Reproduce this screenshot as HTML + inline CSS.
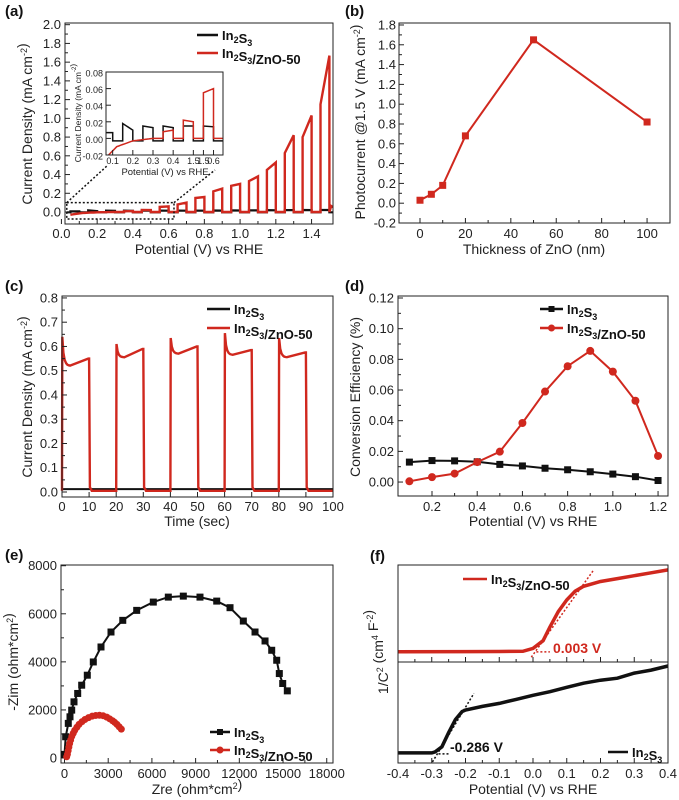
<!DOCTYPE html>
<html><head><meta charset="utf-8">
<style>
html,body{margin:0;padding:0;background:#fff;}
svg{display:block;font-family:"Liberation Sans",Arial,sans-serif;}
</style></head>
<body>
<svg id="fig" width="679" height="800" viewBox="0 0 679 800" xmlns="http://www.w3.org/2000/svg"></svg>
<script>
// ---------- Panel (a) data ----------
const aRedPulseStart=[0.35,0.45,0.55,0.65,0.75,0.85,0.95,1.05,1.15,1.25,1.35,1.45];
const aRedPulseOn=[0.008,0.022,0.055,0.08,0.15,0.22,0.28,0.33,0.45,0.63,0.80,1.15];
const aRedPulseEnd=[0.010,0.020,0.060,0.10,0.16,0.25,0.30,0.38,0.53,0.82,1.03,1.67];
const aRedDarkX=[0.05,0.08,0.12,0.2,0.3,0.5,1.5,1.505,1.53];
const aRedDarkY=[-0.03,-0.02,-0.01,-0.003,0,0,0,0.07,0.04];
const aBlkPulseStart=[0.05,0.15,0.25,0.35,0.45,0.55,0.65,0.75,0.85,0.95,1.05,1.15,1.25,1.35,1.45];
const aBlkPulseOn=[0.007,0.018,0.015,0.015,0.015,0.015,0.015,0.015,0.016,0.017,0.018,0.02,0.02,0.022,0.022];
const aBlkPulseEnd=[0.007,0.010,0.013,0.013,0.015,0.014,0.014,0.014,0.015,0.016,0.017,0.018,0.02,0.02,0.022];
const aBlkDark=-0.003;
const aYTicks=[0,0.2,0.4,0.6,0.8,1.0,1.2,1.4,1.6,1.8,2.0];
const aXTicks=[0,0.2,0.4,0.6,0.8,1.0,1.2,1.4];
const insetXTicks=[0.1,0.2,0.3,0.4,0.5,0.55,0.6];
const insetXLabels=["0.1","0.2","0.3","0.4","1.5","1.5","0.6"];
const insetYTicks=[-0.02,0,0.02,0.04,0.06,0.08];
// ---------- Panel (b) data ----------
const bThickness=[0,5,10,20,50,100];
const bPhotocurrent=[0.03,0.09,0.18,0.68,1.65,0.82];
const bXTicks=[0,20,40,60,80,100];
const bYTicks=[-0.2,0,0.2,0.4,0.6,0.8,1.0,1.2,1.4,1.6,1.8];
// ---------- Panel (c) data ----------
const cOnStart=[0,20,40,60,80];
const cSpike=[0.64,0.61,0.635,0.655,0.635];
const cDip=[0.52,0.555,0.57,0.565,0.555];
const cEnd=[0.55,0.59,0.60,0.585,0.575];
const cDark=0.005;
const cBlack=0.012;
const cXTicks=[0,10,20,30,40,50,60,70,80,90,100];
const cYTicks=[0,0.1,0.2,0.3,0.4,0.5,0.6,0.7,0.8];
// ---------- Panel (d) data ----------
const dPotential=[0.1,0.2,0.3,0.4,0.5,0.6,0.7,0.8,0.9,1.0,1.1,1.2];
const dIn2S3=[0.013,0.014,0.0138,0.0132,0.0115,0.0105,0.009,0.008,0.0067,0.0052,0.0035,0.001];
const dZnO=[0.0005,0.0032,0.0055,0.013,0.0198,0.0385,0.059,0.0755,0.0855,0.072,0.053,0.017];
const dXTicks=[0.2,0.4,0.6,0.8,1.0,1.2];
const dYTicks=[0,0.02,0.04,0.06,0.08,0.10,0.12];
const dYLabels=["0.00","0.02","0.04","0.06","0.08","0.10","0.12"];
// ---------- Panel (e) data ----------
const eBlkZre=[0,80,260,378,494,652,906,1180,1565,1977,2506,3192,4000,4956,6096,7126,8156,9300,10449,11362,12275,13078,13765,14223,14566,14745,14978,15294];
const eBlkZim=[150,884,1440,1714,1992,2336,2685,3029,3445,3996,4619,5242,5727,6142,6487,6694,6735,6694,6528,6254,5698,5242,4869,4482,4067,3514,3100,2793];
const eRedZre=[150,200,250,300,350,420,500,600,700,850,1000,1200,1400,1650,1900,2150,2400,2650,2900,3100,3300,3450,3600,3750,3900];
const eRedZim=[50,150,300,450,600,750,900,1030,1150,1280,1400,1510,1600,1680,1740,1770,1780,1760,1700,1630,1550,1480,1400,1300,1200];
const eXTicks=[0,3000,6000,9000,12000,15000,18000];
const eYTicks=[0,2000,4000,6000,8000];
// ---------- Panel (f) data (arbitrary units 0-100 in each sub-panel) ----------
const fRedV=[-0.4,-0.2,-0.1,-0.03,0.0,0.03,0.05,0.075,0.1,0.125,0.15,0.2,0.25,0.3,0.35,0.4];
const fRedY=[10.6,10.7,10.8,11,14,22,36,52,64,73,78,83,86,89,92,95];
const fBlkV=[-0.4,-0.3,-0.29,-0.27,-0.25,-0.23,-0.21,-0.2,-0.15,-0.1,-0.05,0,0.05,0.1,0.15,0.2,0.25,0.3,0.35,0.4];
const fBlkY=[10,10,11,16,30,43,51,52.5,56,59,63,67,70.6,75,79,82,84,89,92,96];
const fXTicks=[-0.4,-0.3,-0.2,-0.1,0,0.1,0.2,0.3,0.4];
const fRedOnset=0.003;
const fBlkOnset=-0.286;

const NS="http://www.w3.org/2000/svg";
const svg=document.getElementById('fig');
function el(tag,attrs,parent){const e=document.createElementNS(NS,tag);for(const k in attrs)e.setAttribute(k,attrs[k]);(parent||svg).appendChild(e);return e;}
function lin(d0,d1,r0,r1){return v=>r0+(v-d0)*(r1-r0)/(d1-d0);}
function txt(s,x,y,opt,parent){const t=el('text',{x:x,y:y,'font-size':opt.size||13,'text-anchor':opt.anchor||'middle',fill:opt.fill||'#222','font-weight':opt.weight||'normal'},parent);if(opt.rot)t.setAttribute('transform','rotate(-90 '+x+' '+y+')');t.innerHTML=s;return t;}
function pathFrom(xs,ys,X,Y){return xs.map((v,i)=>(i?'L':'M')+X(v).toFixed(1)+','+Y(ys[i]).toFixed(1)).join('');}
function sub(s){return '<tspan dy="3" font-size="9">'+s+'</tspan><tspan dy="-3"></tspan>';}
function sup(s,fs){return '<tspan dy="-5" font-size="'+(fs||9)+'">'+s+'</tspan><tspan dy="5"></tspan>';}

function frame(name,box){const r=el('rect',{x:box[0],y:box[1],width:box[2]-box[0],height:box[3]-box[1],fill:'none',stroke:'#222','stroke-width':1});

}
function xAxis(name,box,X,ticks,labels,ly,size,minor){
 const g=el('g',{});
 
 
 ticks.forEach((v,i)=>{const x=X(v);el('line',{x1:x,x2:x,y1:box[3],y2:box[3]-5,stroke:'#222'},g);
  if(minor&&i<ticks.length-1){const xm=X((v+ticks[i+1])/2);el('line',{x1:xm,x2:xm,y1:box[3],y2:box[3]-3,stroke:'#222'},g);}
  const t=txt(labels?labels[i]:String(v),x,ly,{size:size||13},g);
  
  });
}
function yAxis(name,box,Y,ticks,labels,lx,size,minor){
 const g=el('g',{});
 
 
 ticks.forEach((v,i)=>{const y=Y(v);el('line',{x1:box[0],x2:box[0]+5,y1:y,y2:y,stroke:'#222'},g);
  if(minor&&i<ticks.length-1){const ym=Y((v+ticks[i+1])/2);el('line',{x1:box[0],x2:box[0]+3,y1:ym,y2:ym,stroke:'#222'},g);}
  const t=txt(labels?labels[i]:String(v),lx,y+4.5,{size:size||13,anchor:'end'},g);
  
  });
}
function label(s,x,y){const t=txt(s,x,y,{size:15,anchor:'start',weight:'bold',fill:'#111'});
 
 }
function legend(name,x1,x2,y,color,text,marker){
 const g=el('g',{});
 
 
 el('line',{x1:x1,x2:x2,y1:y,y2:y,stroke:color,'stroke-width':2.5},g);
 const m=(x1+x2)/2;
 if(marker==='s')el('rect',{x:m-3,y:y-3,width:6,height:6,fill:color},g);
 if(marker==='c')el('circle',{cx:m,cy:y,r:3.5,fill:color},g);
 txt(text,x2+4,y+5,{size:13,anchor:'start',weight:'bold',fill:'#111'},g);
}
const IN='In'+sub('2')+'S'+sub('3');
const INZ=IN+'/ZnO-50';
const RED='#d0281e';

function chopped(starts,on,end,darkFn,x0,x1,w){
 const xs=[],ys=[];let cur=x0;
 starts.forEach((s,i)=>{ if(s<x0)return;
  for(let x=cur;x<s;x+=0.01){xs.push(x);ys.push(darkFn(x));}
  xs.push(s);ys.push(darkFn(s));xs.push(s);ys.push(on[i]);
  xs.push(s+w);ys.push(end[i]);xs.push(s+w);ys.push(darkFn(s+w));cur=s+w;});
 for(let x=cur;x<=x1;x+=0.01){xs.push(x);ys.push(darkFn(x));}
 return [xs,ys];
}
function interp(xs,ys,x){if(x<=xs[0])return ys[0];for(let i=1;i<xs.length;i++)if(x<=xs[i])return ys[i-1]+(ys[i]-ys[i-1])*(x-xs[i-1])/(xs[i]-xs[i-1]);return ys[ys.length-1];}

// ================= Panel (a) =================
(function(){
 const box=[65,23,333,224];
 const X=lin(0.02,1.52,box[0],box[2]), Y=lin(-0.128,2.018,box[3],box[1]);
 label('(a)',5,16);
 const clip=el('clipPath',{id:'ca'});el('rect',{x:box[0],y:box[1],width:box[2]-box[0],height:box[3]-box[1]},clip);
 const blk=chopped(aBlkPulseStart,aBlkPulseOn,aBlkPulseEnd,()=>aBlkDark,0.03,1.53,0.05);
 const red=chopped(aRedPulseStart,aRedPulseOn,aRedPulseEnd,x=>interp(aRedDarkX,aRedDarkY,x),0.05,1.53,0.05);
 let p=el('path',{d:pathFrom(blk[0],blk[1],X,Y),fill:'none',stroke:'#111','stroke-width':2.2,'clip-path':'url(#ca)'});
 
 
 p=el('path',{d:pathFrom(red[0],red[1],X,Y),fill:'none',stroke:RED,'stroke-width':2.4,'clip-path':'url(#ca)'});
 
 
 frame('panel-a',box);
 yAxis('panel-a',box,Y,aYTicks,aYTicks.map(v=>v.toFixed(1)),61,13,true);
 xAxis('panel-a',box,X,aXTicks,aXTicks.map(v=>v.toFixed(1)),238,13,true);
 let t=txt('Potential (V) vs RHE',199,254,{size:14});
 
 
 t=txt('Current Density (mA cm'+sup('-2')+')',32,124,{size:14,rot:true});
 
 
 legend('panel-a-legend-in2s3',197,218,35,'#111',IN);
 legend('panel-a-legend-in2s3-zno',197,218,53,RED,INZ);
 const zb=el('rect',{x:X(0.03),y:Y(0.1),width:X(0.63)-X(0.03),height:Y(-0.075)-Y(0.1),fill:'none',stroke:'#111','stroke-width':1.5,'stroke-dasharray':'2,2'});
 
 
 const l1=el('line',{x1:X(0.03),y1:Y(0.1),x2:108,y2:165,stroke:'#111','stroke-width':1.5,'stroke-dasharray':'2,2'});
 
 
 const l2=el('line',{x1:X(0.63),y1:Y(0.1),x2:215,y2:170,stroke:'#111','stroke-width':1.5,'stroke-dasharray':'2,2'});
 
 
 const ib=[106,72,223,155];
 const bg=el('rect',{x:ib[0],y:ib[1],width:ib[2]-ib[0],height:ib[3]-ib[1],fill:'#fff'});
 
 
 const IX=lin(0.067,0.647,ib[0],ib[2]), IY=lin(-0.02,0.08,ib[3],ib[1]);
 const clip2=el('clipPath',{id:'ci'});el('rect',{x:ib[0],y:ib[1],width:ib[2]-ib[0],height:ib[3]-ib[1]},clip2);
 p=el('path',{d:pathFrom(blk[0],blk[1],IX,IY),fill:'none',stroke:'#111','stroke-width':1.5,'clip-path':'url(#ci)'});
 
 
 p=el('path',{d:pathFrom(red[0],red[1],IX,IY),fill:'none',stroke:RED,'stroke-width':1.5,'clip-path':'url(#ci)'});
 
 
 frame('inset',ib);
 yAxis('inset',ib,IY,insetYTicks,insetYTicks.map(v=>v.toFixed(2)),103,9,false);
 xAxis('inset',ib,IX,insetXTicks,insetXLabels,164,9,false);
 t=txt('Potential (V) vs RHE',165,175,{size:9.5});
 
 
 t=txt('Current Density (mA cm'+sup('-2',6)+')',81,113,{size:8.5,rot:true});
 
 
})();

// ================= Panel (b) =================
(function(){
 const box=[399,23,670,223];
 const X=lin(-9.25,110.1,box[0],box[2]), Y=lin(-0.2,1.82,box[3],box[1]);
 label('(b)',345,16);
 frame('panel-b',box);
 yAxis('panel-b',box,Y,bYTicks,bYTicks.map(v=>v.toFixed(1)),396,13,true);
 xAxis('panel-b',box,X,bXTicks,null,238,13,true);
 const p=el('path',{d:pathFrom(bThickness,bPhotocurrent,X,Y),fill:'none',stroke:RED,'stroke-width':2});
 
 
 bThickness.forEach((v,i)=>{const r=el('rect',{x:X(v)-3.5,y:Y(bPhotocurrent[i])-3.5,width:7,height:7,fill:RED});
  
  });
 let t=txt('Thickness of ZnO (nm)',534,254,{size:14});
 
 
 t=txt('Photocurrent @1.5 V (mA cm'+sup('-2')+')',365,122,{size:14,rot:true});
 
 
})();

// ================= Panel (c) =================
(function(){
 const box=[62,296,333,497];
 const X=lin(0,100,box[0],box[2]), Y=lin(-0.0206,0.808,box[3],box[1]);
 label('(c)',5,291);
 const xs=[],ys=[];
 cOnStart.forEach((s,i)=>{
  xs.push(s);ys.push(cDark);xs.push(s+0.1);ys.push(cSpike[i]);
  for(let k=1;k<=6;k++){const tt=s+0.5*k;xs.push(tt);ys.push(cDip[i]+(cSpike[i]-cDip[i])*Math.exp(-k*0.8));}
  xs.push(s+9.7);ys.push(cEnd[i]);xs.push(s+10);ys.push(cEnd[i]);
  xs.push(s+10.3);ys.push(0.02);xs.push(s+11);ys.push(cDark);xs.push(s+19.9);ys.push(cDark);});
 let p=el('path',{d:pathFrom([0,100],[cBlack,cBlack],X,Y),fill:'none',stroke:'#111','stroke-width':2});
 
 
 p=el('path',{d:pathFrom(xs,ys,X,Y),fill:'none',stroke:RED,'stroke-width':2.4});
 
 
 frame('panel-c',box);
 yAxis('panel-c',box,Y,cYTicks,cYTicks.map(v=>v.toFixed(1)),58,13,true);
 xAxis('panel-c',box,X,cXTicks,null,511,13,false);
 let t=txt('Time (sec)',197,526,{size:14});
 
 
 t=txt('Current Density (mA cm'+sup('-2')+')',32,397,{size:14,rot:true});
 
 
 legend('panel-c-legend-in2s3',207,230,309,'#111',IN);
 legend('panel-c-legend-in2s3-zno',207,230,328,RED,INZ);
})();

// ================= Panel (d) =================
(function(){
 const box=[398,296,668,496];
 const X=lin(0.0496,1.244,box[0],box[2]), Y=lin(-0.0091,0.1213,box[3],box[1]);
 label('(d)',345,291);
 frame('panel-d',box);
 yAxis('panel-d',box,Y,dYTicks,dYLabels,394,13,true);
 xAxis('panel-d',box,X,dXTicks,dXTicks.map(v=>v.toFixed(1)),511,13,true);
 let p=el('path',{d:pathFrom(dPotential,dIn2S3,X,Y),fill:'none',stroke:'#111','stroke-width':2});
 
 
 dPotential.forEach((v,i)=>{const r=el('rect',{x:X(v)-3.5,y:Y(dIn2S3[i])-3.5,width:7,height:7,fill:'#111'});
  
  });
 p=el('path',{d:pathFrom(dPotential,dZnO,X,Y),fill:'none',stroke:RED,'stroke-width':2});
 
 
 dPotential.forEach((v,i)=>{const c=el('circle',{cx:X(v),cy:Y(dZnO[i]),r:4,fill:RED});
  
  });
 let t=txt('Potential (V) vs RHE',533,526,{size:14});
 
 
 t=txt('Conversion Efficiency (%)',360,397,{size:14,rot:true});
 
 
 legend('panel-d-legend-in2s3',540,563,309,'#111',IN,'s');
 legend('panel-d-legend-in2s3-zno',540,563,328,RED,INZ,'c');
})();

// ================= Panel (e) =================
(function(){
 const box=[61,565,333,763];
 const X=lin(-240,18430,box[0],box[2]), Y=lin(-208,8030,box[3],box[1]);
 label('(e)',5,560);
 frame('panel-e',box);
 yAxis('panel-e',box,Y,eYTicks,null,57,13,true);
 xAxis('panel-e',box,X,eXTicks,null,778,13,true);
 let p=el('path',{d:pathFrom(eBlkZre,eBlkZim,X,Y),fill:'none',stroke:'#111','stroke-width':2});
 
 
 eBlkZre.forEach((v,i)=>{const r=el('rect',{x:X(v)-3.5,y:Y(eBlkZim[i])-3.5,width:7,height:7,fill:'#111'});
  
  });
 p=el('path',{d:pathFrom(eRedZre,eRedZim,X,Y),fill:'none',stroke:RED,'stroke-width':2});
 
 
 eRedZre.forEach((v,i)=>{const c=el('circle',{cx:X(v),cy:Y(eRedZim[i]),r:3.5,fill:RED});
  
  });
 let t=txt('Zre (ohm*cm'+sup('2')+')',197,794,{size:14});
 
 
 t=txt('-Zim (ohm*cm'+sup('2')+')',18,662,{size:14,rot:true});
 
 
 legend('panel-e-legend-in2s3',210,230,732,'#111',IN,'s');
 legend('panel-e-legend-in2s3-zno',210,230,750,RED,INZ,'c');
})();

// ================= Panel (f) =================
(function(){
 const box=[398,565,668,763], mid=662;
 const X=lin(-0.4,0.4,box[0],box[2]);
 const YT=lin(0,100,mid,box[1]), YB=lin(0,100,box[3],mid);
 label('(f)',370,561);
 let p=el('path',{d:pathFrom(fRedV,fRedY,X,YT),fill:'none',stroke:RED,'stroke-width':3.5});
 
 
 p=el('path',{d:pathFrom(fBlkV,fBlkY,X,YB),fill:'none',stroke:'#111','stroke-width':3.5});
 
 
 let l=el('line',{x1:X(fRedOnset-0.008),y1:YT(5),x2:X(0.18),y2:YT(95),stroke:RED,'stroke-width':1.5,'stroke-dasharray':'2,2'});
 
 
 l=el('line',{x1:X(0.01),y1:YT(10.5),x2:X(0.05),y2:YT(10.5),stroke:RED,'stroke-width':1.5,'stroke-dasharray':'2,2'});
 
 
 l=el('line',{x1:X(fBlkOnset-0.012),y1:YB(1),x2:X(-0.175),y2:YB(69),stroke:'#111','stroke-width':1.5,'stroke-dasharray':'2,2'});
 
 
 l=el('line',{x1:X(-0.28),y1:YB(9),x2:X(-0.245),y2:YB(9),stroke:'#111','stroke-width':1.5,'stroke-dasharray':'2,2'});
 
 
 let t=txt(fRedOnset.toFixed(3)+' V',553,653,{size:14,anchor:'start',weight:'bold',fill:RED});
 
 
 t=txt(fBlkOnset.toFixed(3)+' V',450,752,{size:14,anchor:'start',weight:'bold',fill:'#111'});
 
 
 frame('panel-f',box);
 const dv=el('line',{x1:box[0],x2:box[2],y1:mid,y2:mid,stroke:'#222','stroke-width':1});
 
 
 fXTicks.forEach((v,i)=>{const x=X(v);el('line',{x1:x,x2:x,y1:mid,y2:mid-5,stroke:'#222'});
  if(i<fXTicks.length-1){const xm=X(v+0.05);el('line',{x1:xm,x2:xm,y1:mid,y2:mid-3,stroke:'#222'});}});
 xAxis('panel-f',box,X,fXTicks,fXTicks.map(v=>v.toFixed(1)),778,13,true);
 t=txt('Potential (V) vs RHE',533,794,{size:14});
 
 
 t=txt('1/C'+sup('2')+' (cm'+sup('4')+' F'+sup('-2')+')',388,652,{size:14,rot:true});
 
 
 legend('panel-f-legend-in2s3-zno',463,487,579,RED,INZ);
 legend('panel-f-legend-in2s3',608,628,752,'#111',IN);
})();
</script>
</body></html>
